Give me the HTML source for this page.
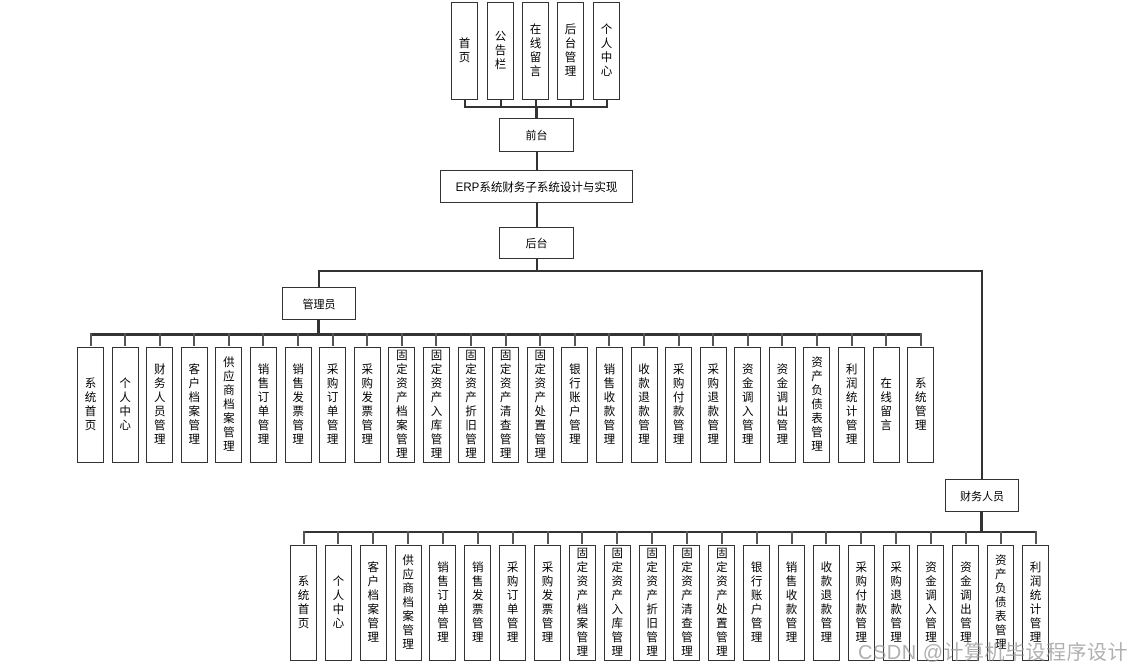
<!DOCTYPE html>
<html><head><meta charset="utf-8"><style>
body{margin:0;width:1141px;height:669px;background:#fff;position:relative;overflow:hidden;font-family:"Liberation Sans","Noto Sans CJK SC",sans-serif;color:#000}
.b{position:absolute;border:1.5px solid #333;box-sizing:border-box;background:#fff;display:flex;align-items:center;justify-content:center;font-size:11px;text-align:center}
.v{line-height:14px;font-size:11.5px}
.l{position:absolute;background:#333}
.row{position:absolute;display:flex}
.row .b{position:relative;flex:none}
.row .b::before{content:"";position:absolute;left:50%;margin-left:-1px;width:2px;top:-15px;height:13px;background:#555}
.wm{position:absolute;left:858px;top:636px;font-size:20px;color:rgba(150,150,150,0.75);letter-spacing:0.5px;white-space:nowrap}
</style></head><body>
<!-- top boxes -->
<div class="b v" style="left:451px;top:2px;width:27px;height:98px">首<br>页</div>
<div class="b v" style="left:487px;top:2px;width:27px;height:98px">公<br>告<br>栏</div>
<div class="b v" style="left:522px;top:2px;width:27px;height:98px">在<br>线<br>留<br>言</div>
<div class="b v" style="left:557px;top:2px;width:27px;height:98px">后<br>台<br>管<br>理</div>
<div class="b v" style="left:593px;top:2px;width:27px;height:98px">个<br>人<br>中<br>心</div>
<div class="l" style="left:464px;top:100px;width:2px;height:7px"></div>
<div class="l" style="left:500px;top:100px;width:2px;height:7px"></div>
<div class="l" style="left:535px;top:100px;width:2px;height:7px"></div>
<div class="l" style="left:570px;top:100px;width:2px;height:7px"></div>
<div class="l" style="left:606px;top:100px;width:2px;height:7px"></div>
<div class="l" style="left:464px;top:106px;width:144px;height:2px"></div>
<div class="l" style="left:535px;top:106px;width:3px;height:12px"></div>
<div class="b" style="left:499px;top:118px;width:75px;height:34px">前台</div>
<div class="l" style="left:536px;top:152px;width:1.5px;height:18px"></div>
<div class="b" style="left:440px;top:170px;width:193px;height:33px;font-size:11.5px">ERP系统财务子系统设计与实现</div>
<div class="l" style="left:536px;top:203px;width:1.5px;height:24px"></div>
<div class="b" style="left:499px;top:227px;width:75px;height:32px">后台</div>
<div class="l" style="left:536px;top:259px;width:1.5px;height:12px"></div>
<div class="l" style="left:318px;top:270px;width:664px;height:1.5px"></div>
<div class="l" style="left:318px;top:270px;width:1.5px;height:18px"></div>
<div class="l" style="left:981px;top:270px;width:1.5px;height:209px"></div>
<div class="b" style="left:282px;top:287px;width:74px;height:33px">管理员</div>
<div class="l" style="left:317px;top:320px;width:3px;height:14px"></div>
<div class="l" style="left:90px;top:333px;width:831px;height:3px"></div>
<div class="row" style="left:77px;top:347px;gap:7.6px">
<div class="b v" style="width:27px;height:116px">系<br>统<br>首<br>页</div>
<div class="b v" style="width:27px;height:116px">个<br>人<br>中<br>心</div>
<div class="b v" style="width:27px;height:116px">财<br>务<br>人<br>员<br>管<br>理</div>
<div class="b v" style="width:27px;height:116px">客<br>户<br>档<br>案<br>管<br>理</div>
<div class="b v" style="width:27px;height:116px">供<br>应<br>商<br>档<br>案<br>管<br>理</div>
<div class="b v" style="width:27px;height:116px">销<br>售<br>订<br>单<br>管<br>理</div>
<div class="b v" style="width:27px;height:116px">销<br>售<br>发<br>票<br>管<br>理</div>
<div class="b v" style="width:27px;height:116px">采<br>购<br>订<br>单<br>管<br>理</div>
<div class="b v" style="width:27px;height:116px">采<br>购<br>发<br>票<br>管<br>理</div>
<div class="b v" style="width:27px;height:116px">固<br>定<br>资<br>产<br>档<br>案<br>管<br>理</div>
<div class="b v" style="width:27px;height:116px">固<br>定<br>资<br>产<br>入<br>库<br>管<br>理</div>
<div class="b v" style="width:27px;height:116px">固<br>定<br>资<br>产<br>折<br>旧<br>管<br>理</div>
<div class="b v" style="width:27px;height:116px">固<br>定<br>资<br>产<br>清<br>查<br>管<br>理</div>
<div class="b v" style="width:27px;height:116px">固<br>定<br>资<br>产<br>处<br>置<br>管<br>理</div>
<div class="b v" style="width:27px;height:116px">银<br>行<br>账<br>户<br>管<br>理</div>
<div class="b v" style="width:27px;height:116px">销<br>售<br>收<br>款<br>管<br>理</div>
<div class="b v" style="width:27px;height:116px">收<br>款<br>退<br>款<br>管<br>理</div>
<div class="b v" style="width:27px;height:116px">采<br>购<br>付<br>款<br>管<br>理</div>
<div class="b v" style="width:27px;height:116px">采<br>购<br>退<br>款<br>管<br>理</div>
<div class="b v" style="width:27px;height:116px">资<br>金<br>调<br>入<br>管<br>理</div>
<div class="b v" style="width:27px;height:116px">资<br>金<br>调<br>出<br>管<br>理</div>
<div class="b v" style="width:27px;height:116px">资<br>产<br>负<br>债<br>表<br>管<br>理</div>
<div class="b v" style="width:27px;height:116px">利<br>润<br>统<br>计<br>管<br>理</div>
<div class="b v" style="width:27px;height:116px">在<br>线<br>留<br>言</div>
<div class="b v" style="width:27px;height:116px">系<br>统<br>管<br>理</div>
</div>
<div class="b" style="left:945px;top:479px;width:74px;height:33px">财务人员</div>
<div class="l" style="left:980px;top:512px;width:3px;height:20px"></div>
<div class="l" style="left:303px;top:531px;width:733px;height:2px"></div>
<div class="row" style="left:290px;top:545px;gap:7.86px">
<div class="b v" style="width:27px;height:116px">系<br>统<br>首<br>页</div>
<div class="b v" style="width:27px;height:116px">个<br>人<br>中<br>心</div>
<div class="b v" style="width:27px;height:116px">客<br>户<br>档<br>案<br>管<br>理</div>
<div class="b v" style="width:27px;height:116px">供<br>应<br>商<br>档<br>案<br>管<br>理</div>
<div class="b v" style="width:27px;height:116px">销<br>售<br>订<br>单<br>管<br>理</div>
<div class="b v" style="width:27px;height:116px">销<br>售<br>发<br>票<br>管<br>理</div>
<div class="b v" style="width:27px;height:116px">采<br>购<br>订<br>单<br>管<br>理</div>
<div class="b v" style="width:27px;height:116px">采<br>购<br>发<br>票<br>管<br>理</div>
<div class="b v" style="width:27px;height:116px">固<br>定<br>资<br>产<br>档<br>案<br>管<br>理</div>
<div class="b v" style="width:27px;height:116px">固<br>定<br>资<br>产<br>入<br>库<br>管<br>理</div>
<div class="b v" style="width:27px;height:116px">固<br>定<br>资<br>产<br>折<br>旧<br>管<br>理</div>
<div class="b v" style="width:27px;height:116px">固<br>定<br>资<br>产<br>清<br>查<br>管<br>理</div>
<div class="b v" style="width:27px;height:116px">固<br>定<br>资<br>产<br>处<br>置<br>管<br>理</div>
<div class="b v" style="width:27px;height:116px">银<br>行<br>账<br>户<br>管<br>理</div>
<div class="b v" style="width:27px;height:116px">销<br>售<br>收<br>款<br>管<br>理</div>
<div class="b v" style="width:27px;height:116px">收<br>款<br>退<br>款<br>管<br>理</div>
<div class="b v" style="width:27px;height:116px">采<br>购<br>付<br>款<br>管<br>理</div>
<div class="b v" style="width:27px;height:116px">采<br>购<br>退<br>款<br>管<br>理</div>
<div class="b v" style="width:27px;height:116px">资<br>金<br>调<br>入<br>管<br>理</div>
<div class="b v" style="width:27px;height:116px">资<br>金<br>调<br>出<br>管<br>理</div>
<div class="b v" style="width:27px;height:116px">资<br>产<br>负<br>债<br>表<br>管<br>理</div>
<div class="b v" style="width:27px;height:116px">利<br>润<br>统<br>计<br>管<br>理</div>
</div>
<div class="wm">CSDN @计算机毕设程序设计</div>
</body></html>
